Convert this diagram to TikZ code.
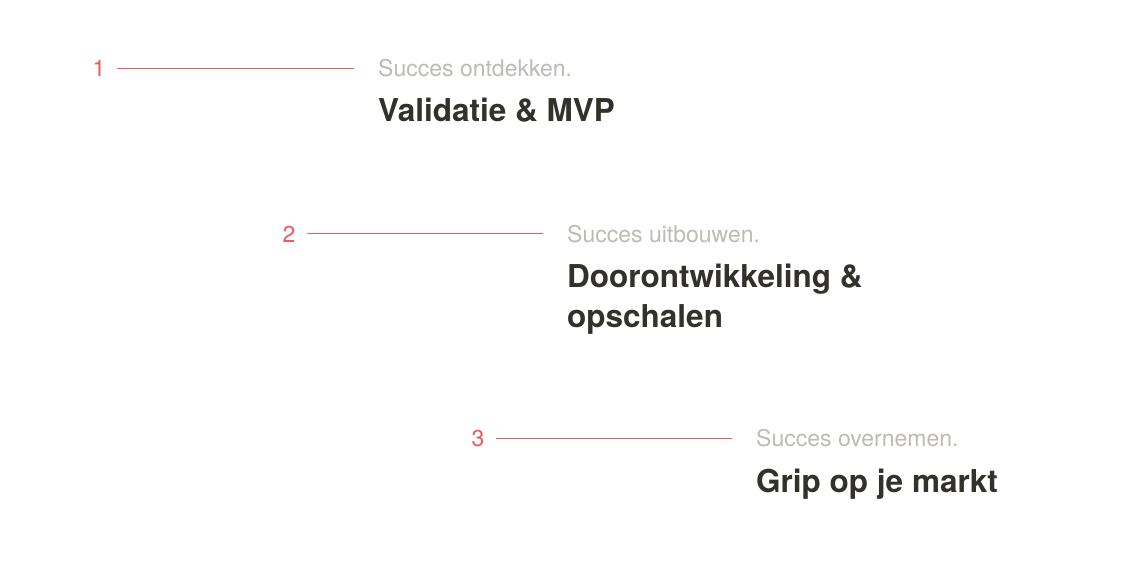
\documentclass[tikz,border=0pt]{standalone}
\usepackage{fontspec}
\setmainfont{TeX Gyre Heros}
\definecolor{stepred}{RGB}{240,90,90}
\definecolor{subgray}{RGB}{190,186,180}
\definecolor{titledark}{RGB}{51,49,44}
\begin{document}
\begin{tikzpicture}[x=1pt, y=-1pt, line cap=round,
	stepnum/.style={text=stepred, font=\fontsize{23}{27}\selectfont, inner sep=0pt, anchor=base},
	stepsub/.style={text=subgray, font=\fontsize{23}{27}\selectfont, inner sep=0pt, anchor=base west},
	steptitle/.style={text=titledark, font=\fontsize{31.5}{40}\selectfont\bfseries, inner sep=0pt, anchor=base west, align=left},
	stepline/.style={stepred, line width=0.8pt, shorten <=12pt, shorten >=24pt}]
		% Canvas
		\fill[white] (0,0) rectangle (1136,575);
		\useasboundingbox (0,0) rectangle (1136,575);
		
		% Step 1
		\node[stepnum] (num1) at (99,77) {1};
		\node[stepsub] (sub1) at (378,77) {Succes ontdekken.};
		\node[steptitle] (title1) at (378,122) {Validatie \& MVP};
		\draw[stepline] (num1.east |- 0,68) -- (sub1.west |- 0,68);
		
		% Step 2
		\node[stepnum] (num2) at (289,242) {2};
		\node[stepsub] (sub2) at (567,242) {Succes uitbouwen.};
		\node[steptitle] (title2) at (567,327) {Doorontwikkeling \&\\opschalen};
		\draw[stepline] (num2.east |- 0,233) -- (sub2.west |- 0,233);
		
		% Step 3
		\node[stepnum] (num3) at (478,446) {3};
		\node[stepsub] (sub3) at (756,446) {Succes overnemen.};
		\node[steptitle] (title3) at (756,492) {Grip op je markt};
		\draw[stepline] (num3.east |- 0,438) -- (sub3.west |- 0,438);
	\end{tikzpicture}
\end{document}
